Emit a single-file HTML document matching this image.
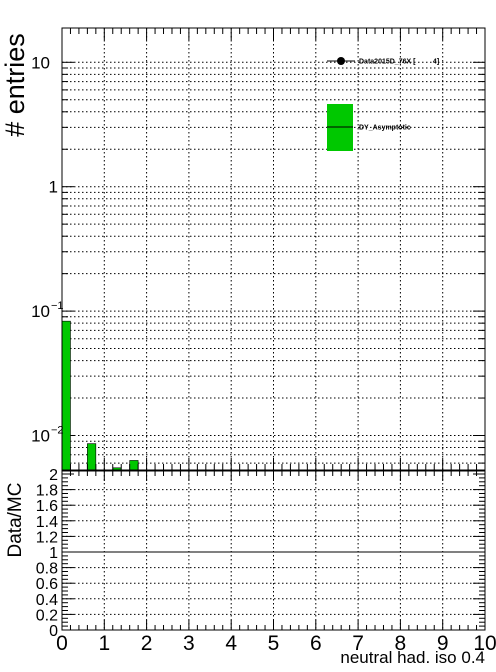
<!DOCTYPE html>
<html><head><meta charset="utf-8"><style>
body{margin:0;background:#fff;width:496px;height:672px;overflow:hidden}
svg{display:block;font-family:"Liberation Sans",sans-serif}
</style></head><body>
<svg id="c" width="496" height="672" xmlns="http://www.w3.org/2000/svg"></svg>
<script>
const binEdgesLow=[0,0.6,1.2,1.6];
const binWidth=0.2;
const mcValues=[0.083,0.0086,0.0055,0.0063];
const xTicks=[0,1,2,3,4,5,6,7,8,9,10];
const ratioTicks=[0,0.2,0.4,0.6,0.8,1,1.2,1.4,1.6,1.8,2];
const yDecades=[-2,-1,0,1];
const yDecadeLabels=["10","10","1","10"];

const NS="http://www.w3.org/2000/svg";
const svg=document.getElementById('c');
const L=62,R=485,T=28,B=470,RT=471,RB=630;
const X=v=>L+(v/10)*(R-L);
const Y=v=>186.7-124.4*Math.log10(v);
const RY=v=>630-78*v;
function el(t,a,p){const e=document.createElementNS(NS,t);for(const k in a)e.setAttribute(k,a[k]);(p||svg).appendChild(e);return e;}

const g=el('g',{});


for(const t of xTicks){if(t>0&&t<10){el('line',{x1:X(t),x2:X(t),y1:T,y2:B,stroke:'#000','stroke-dasharray':'1.5,2.5','stroke-width':1},g);el('line',{x1:X(t),x2:X(t),y1:RT,y2:RB,stroke:'#000','stroke-dasharray':'1.5,2.5','stroke-width':1},g);}}
for(let d=-3;d<=1;d++)for(let m=1;m<10;m++){const v=m*Math.pow(10,d);const y=Y(v);if(y>T&&y<B){el('line',{x1:L,x2:R,y1:y,y2:y,stroke:'#000','stroke-dasharray':'1.5,2.5','stroke-width':1},g);
el('line',{x1:L,x2:L+(m==1?12:6),y1:y,y2:y,stroke:'#000'},g);el('line',{x1:R,x2:R-(m==1?12:6),y1:y,y2:y,stroke:'#000'},g);}}
for(let i=0;i<mcValues.length;i++){const b=el('rect',{x:X(binEdgesLow[i]),y:Y(mcValues[i]),width:X(binEdgesLow[i]+binWidth)-X(binEdgesLow[i]),height:B-Y(mcValues[i]),fill:'#00c800',stroke:'#000','stroke-width':0.6});

}
for(let v=0;v<=10.001;v+=0.2){const big=Math.abs(v-Math.round(v))<0.01;const x=X(v);el('line',{x1:x,x2:x,y1:B,y2:B-(big?12:6),stroke:'#000'});el('line',{x1:x,x2:x,y1:T,y2:T+(big?12:6),stroke:'#000'});el('line',{x1:x,x2:x,y1:RB,y2:RB-(big?10:5),stroke:'#000'});el('line',{x1:x,x2:x,y1:RT,y2:RT+(big?10:5),stroke:'#000'});}
const f=el('rect',{x:L,y:T,width:R-L,height:B-T,fill:'none',stroke:'#000','stroke-width':1});

yDecades.forEach((d,i)=>{const y=Y(Math.pow(10,d));const t=el('text',{x:d==0?58:50,y:y+6,'text-anchor':'end','font-size':17});t.textContent=yDecadeLabels[i];

if(d<0){const s=el('text',{x:51,y:y-2,'font-size':11});s.textContent=String(d).replace('-','\u2212');}});
const yt=el('text',{transform:'translate(24,85) rotate(-90)','text-anchor':'middle','font-size':27});yt.textContent='# entries';

const lg=el('g',{});
el('line',{x1:327,x2:355,y1:61,y2:61,stroke:'#000'},lg);el('circle',{cx:341,cy:61,r:4,fill:'#000'},lg);
el('text',{x:359,y:63.5,'font-size':7,'font-weight':'bold','xml:space':'preserve',style:'white-space:pre'},lg).textContent='Data2015D_76X [         4]';
el('rect',{x:327,y:104,width:26,height:47,fill:'#00c800'},lg);el('line',{x1:327,x2:353,y1:127,y2:127,stroke:'#000'},lg);
el('text',{x:359,y:129.5,'font-size':7,'font-weight':'bold'},lg).textContent='DY_Asymptotic';
for(let v=0;v<=2.05;v+=0.05){const y=RY(v);const big=Math.abs(v*5-Math.round(v*5))<0.01;el('line',{x1:L,x2:L+(big?12:6),y1:y,y2:y,stroke:'#000'});el('line',{x1:R,x2:R-(big?12:6),y1:y,y2:y,stroke:'#000'});}
for(const v of ratioTicks){const y=RY(v);if(v>0&&v!=1&&v<2)el('line',{x1:L,x2:R,y1:y,y2:y,stroke:'#000','stroke-dasharray':'1.5,2.5'});
const t=el('text',{x:58,y:y+6,'text-anchor':'end','font-size':16});t.textContent=String(v);}
el('line',{x1:L,x2:R,y1:RY(1),y2:RY(1),stroke:'#000'});
el('rect',{x:L,y:RT,width:R-L,height:RB-RT,fill:'none',stroke:'#000'});
const rt=el('text',{transform:'translate(21,520) rotate(-90)','text-anchor':'middle','font-size':19});rt.textContent='Data/MC';

for(const t of xTicks){const e=el('text',{x:X(t),y:650,'text-anchor':'middle','font-size':21});e.textContent=t;}
const xt=el('text',{x:485,y:663,'text-anchor':'end','font-size':17});xt.textContent='neutral had. iso 0.4';

</script>
</body></html>
